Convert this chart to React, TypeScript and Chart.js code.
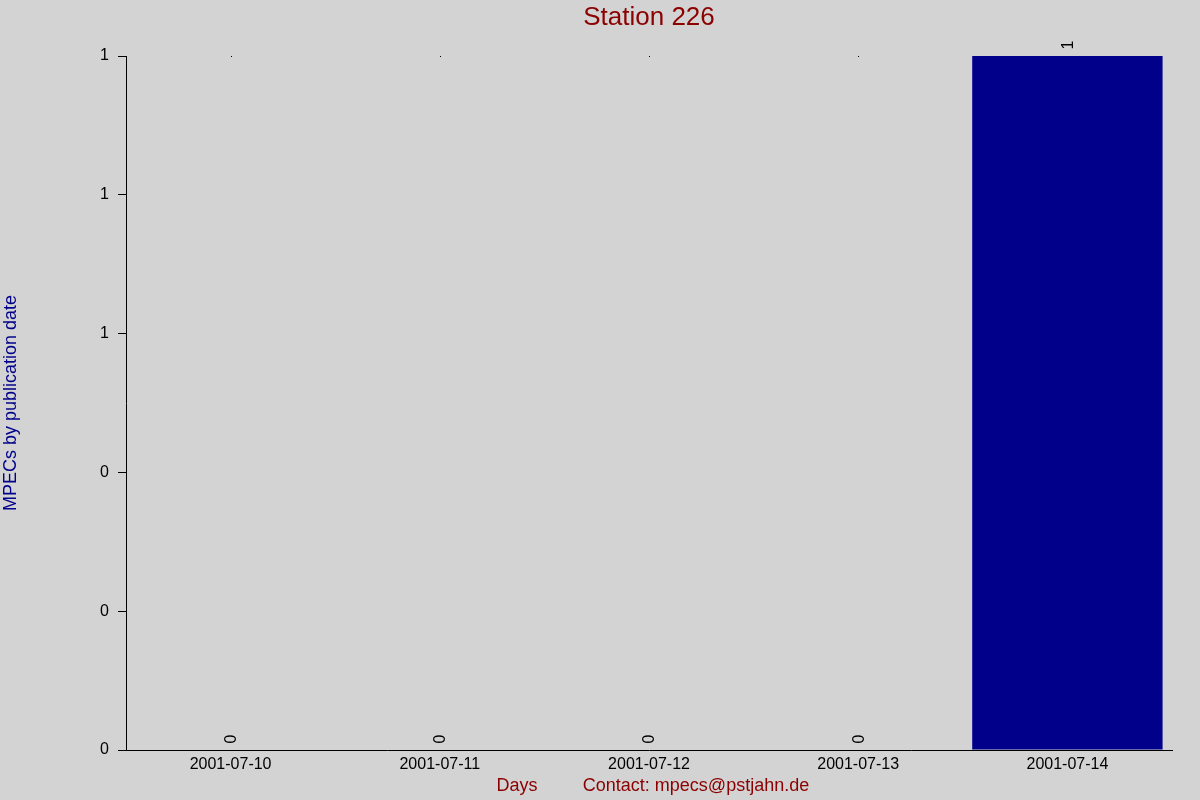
import React, { useEffect, useRef } from "react";
import { Chart, registerables } from "chart.js";

Chart.register(...registerables);

const categories: string[] = ["2001-07-10", "2001-07-11", "2001-07-12", "2001-07-13", "2001-07-14"];
const mpecs: number[] = [0, 0, 0, 0, 1];
const titleText = "Station 226";
const yTitle = "MPECs by publication date";
const xTitle = "Days";
const contactText = "Contact: mpecs@pstjahn.de";

const FONT = "'Liberation Sans', Arial, sans-serif";

const labelsPlugin = {
  id: "customTexts",
  afterDatasetsDraw(chart: any) {
    const ctx = chart.ctx;
    const area = chart.chartArea;
    ctx.save();
    // bar value labels
    const meta = chart.getDatasetMeta(0);
    ctx.fillStyle = "#000000";
    ctx.font = `16px ${FONT}`;
    meta.data.forEach((bar: any, i: number) => {
      if (mpecs[i] === 0) {
        ctx.fillRect(Math.round(bar.x), area.top, 1, 1);
      }
      ctx.save();
      ctx.translate(bar.x + 1, bar.y - 11);
      ctx.rotate(-Math.PI / 2);
      ctx.textAlign = "center";
      ctx.textBaseline = "middle";
      ctx.fillText(String(mpecs[i]), 0, 0);
      ctx.restore();
    });
    // title
    ctx.fillStyle = "#8b0000";
    ctx.font = `26px ${FONT}`;
    ctx.textAlign = "center";
    ctx.textBaseline = "middle";
    ctx.fillText(titleText, (area.left + area.right) / 2, 18);
    // y title
    ctx.save();
    ctx.translate(11, 403);
    ctx.rotate(-Math.PI / 2);
    ctx.fillStyle = "#00008b";
    ctx.font = `18px ${FONT}`;
    ctx.fillText(yTitle, 0, 0);
    ctx.restore();
    // x titles
    ctx.fillStyle = "#8b0000";
    ctx.font = `18px ${FONT}`;
    ctx.fillText(xTitle, 517, 786);
    ctx.fillText(contactText, 696, 786);
    ctx.restore();
  },
};

const bgPlugin = {
  id: "bg",
  beforeDraw(chart: any) {
    const ctx = chart.ctx;
    ctx.save();
    ctx.fillStyle = "#d3d3d3";
    ctx.fillRect(0, 0, chart.width, chart.height);
    ctx.restore();
  },
};

export default function App() {
  const ref = useRef<HTMLCanvasElement | null>(null);
  useEffect(() => {
    document.body.style.margin = "0";
    document.body.style.background = "#d3d3d3";
    if (!ref.current) return;
    const chart = new Chart(ref.current, {
      type: "bar",
      data: {
        labels: categories,
        datasets: [
          {
            data: mpecs,
            backgroundColor: "#00008b",
            borderWidth: 0,
            barPercentage: 0.91,
            categoryPercentage: 1,
          },
        ],
      },
      options: {
        animation: false,
        responsive: false,
        devicePixelRatio: 1,
        layout: { padding: { top: 56, right: 28, left: 0, bottom: 0 } },
        plugins: {
          legend: { display: false },
          title: { display: false },
          tooltip: { enabled: false },
        },
        scales: {
          x: {
            afterFit(scale: any) {
              scale.height = 50;
            },
            grid: { display: true, drawOnChartArea: false, drawTicks: false },
            border: { display: true, color: "#000000", width: 1 },
            ticks: {
              color: "#000000",
              font: { family: FONT, size: 16 },
              padding: 5,
              maxRotation: 0,
              autoSkip: false,
            },
          },
          y: {
            min: 0,
            max: 1,
            afterFit(scale: any) {
              scale.width = 126;
            },
            grid: { display: true, drawOnChartArea: false, drawTicks: true, tickLength: 8, color: "#000000" },
            border: { display: true, color: "#000000", width: 1 },
            ticks: {
              stepSize: 0.2,
              color: "#000000",
              font: { family: FONT, size: 16 },
              padding: 9,
              callback: (v: any) => String(Math.round(Number(v))),
            },
          },
        },
      },
      plugins: [bgPlugin, labelsPlugin],
    });
    return () => chart.destroy();
  }, []);
  return <canvas ref={ref} width={1200} height={800} style={{ display: "block" }} />;
}
